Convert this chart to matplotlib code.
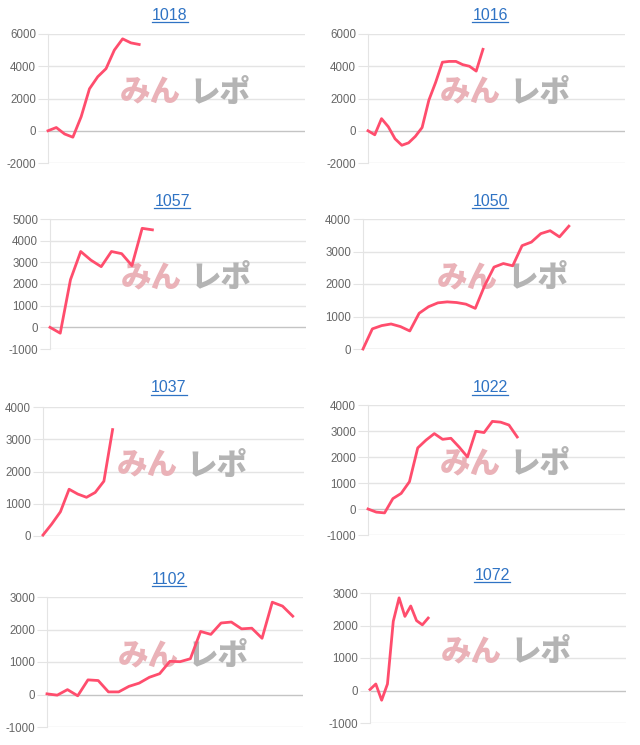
"""
Per-machine cumulative coin difference charts (8 panels, 2 columns).
"""

import matplotlib.pyplot as plt
from matplotlib.lines import Line2D

plt.rcParams["font.family"] = ["Liberation Sans", "DejaVu Sans"]
plt.rcParams["axes.unicode_minus"] = False

W, H = 640, 745

LINE_COLOR = "#ff4d6d"
TITLE_COLOR = "#2f73c4"
GRID_COLOR = "#e4e4e4"
ZERO_COLOR = "#c4c4c4"
TICK_COLOR = "#666666"

# --- data ---------------------------------------------------------------
titles = ["1018", "1016", "1057", "1050", "1037", "1022", "1102", "1072"]

v1018 = [0, 200, -200, -400, 870, 2600, 3350, 3850, 5000, 5700, 5450, 5350]
v1016 = [0, -250, 750, 250, -500, -900, -750, -350, 200, 1900, 3000, 4250,
         4300, 4300, 4100, 4000, 3700, 5050]
v1057 = [0, -270, 2200, 3500, 3100, 2800, 3500, 3400, 2850, 4570, 4500]
v1050 = [0, 620, 720, 770, 690, 555, 1100, 1300, 1420, 1450, 1430, 1380, 1250,
         1950, 2520, 2630, 2560, 3180, 3290, 3550, 3640, 3450, 3780]
v1037 = [30, 370, 750, 1450, 1300, 1200, 1350, 1700, 3300]
v1022 = [0, -120, -150, 400, 600, 1050, 2350, 2650, 2900, 2680, 2720, 2380,
         2000, 2990, 2940, 3370, 3340, 3230, 2770]
v1102 = [20, -20, 150, -40, 450, 430, 80, 80, 250, 350, 530, 640, 1020, 1010,
         1100, 1940, 1850, 2200, 2230, 2020, 2040, 1730, 2840, 2720, 2410]
v1072 = [30, 200, -300, 200, 2130, 2850, 2280, 2600, 2150, 2020, 2230]

series = [v1018, v1016, v1057, v1050, v1037, v1022, v1102, v1072]

# number of x-axis intervals (category slots) in each chart
n_slots = [31, 38, 25, 28, 30, 31, 25, 44]

y_ticks = [
    [-2000, 0, 2000, 4000, 6000],
    [-2000, 0, 2000, 4000, 6000],
    [-1000, 0, 1000, 2000, 3000, 4000, 5000],
    [0, 1000, 2000, 3000, 4000],
    [0, 1000, 2000, 3000, 4000],
    [-1000, 0, 1000, 2000, 3000, 4000],
    [-1000, 0, 1000, 2000, 3000],
    [-1000, 0, 1000, 2000, 3000],
]

# --- layout (pixels) ----------------------------------------------------
# left, right, top, bottom of plot area
boxes = [
    (48, 305, 34, 163), (368, 625, 34, 163),
    (50, 306, 219, 349), (363, 625, 219, 349),
    (43, 304, 407, 536), (368, 625, 405, 535),
    (47, 303, 597, 727), (370, 626, 593, 723),
]
# title center x, baseline y
title_pos = [
    (170, 19.5), (490, 19.5),
    (172, 205.5), (490, 205.5),
    (169, 392.5), (490, 392.5),
    (169, 583.5), (492, 579.5),
]

fig = plt.figure(figsize=(W / 100, H / 100), dpi=100)
fig.patch.set_facecolor("white")

title_texts = []
for i, vals in enumerate(series):
    l, r, t, b = boxes[i]
    ax = fig.add_axes([l / W, 1 - b / H, (r - l) / W, (b - t) / H])
    ticks = y_ticks[i]

    for tv in ticks:
        ax.axhline(tv, color=ZERO_COLOR if tv == 0 else GRID_COLOR,
                   lw=1, zorder=0)

    ax.plot(range(len(vals)), vals, color=LINE_COLOR, lw=2.0, zorder=3,
            clip_on=False)

    ax.set_xlim(0, n_slots[i])
    ax.set_ylim(ticks[0], ticks[-1])
    ax.set_yticks(ticks)
    ax.set_xticks([])
    ax.tick_params(axis="y", length=7.5, width=0.8, color=GRID_COLOR,
                   pad=1, labelsize=8.3, labelcolor=TICK_COLOR)
    for side in ["top", "right", "bottom"]:
        ax.spines[side].set_visible(False)
    ax.spines["left"].set_color(GRID_COLOR)
    ax.spines["left"].set_linewidth(0.8)

    # watermark
    ax.text(0.515, 0.55, "みん", transform=ax.transAxes, ha="right",
            va="center", fontsize=22, fontweight="heavy", color="#eab2b8",
            family=["Noto Sans CJK JP", "DejaVu Sans"], zorder=1)
    ax.text(0.55, 0.55, "レポ", transform=ax.transAxes, ha="left",
            va="center", fontsize=22, fontweight="heavy", color="#b4b4b4",
            family=["Noto Sans CJK JP", "DejaVu Sans"], zorder=1)

    tx, ty = title_pos[i]
    title_texts.append(fig.text(tx / W, 1 - ty / H, titles[i], ha="center",
                                va="baseline", fontsize=11.5,
                                color=TITLE_COLOR))

# underline the titles (they are links in the original page)
renderer = fig.canvas.get_renderer()
for txt in title_texts:
    bb = txt.get_window_extent(renderer)
    base_y = txt.get_position()[1] * H
    y = base_y - 2.5
    fig.add_artist(Line2D([bb.x0 / W, bb.x1 / W], [y / H, y / H],
                          transform=fig.transFigure, color=TITLE_COLOR,
                          lw=0.9))

fig.savefig("out.png", dpi=100)
